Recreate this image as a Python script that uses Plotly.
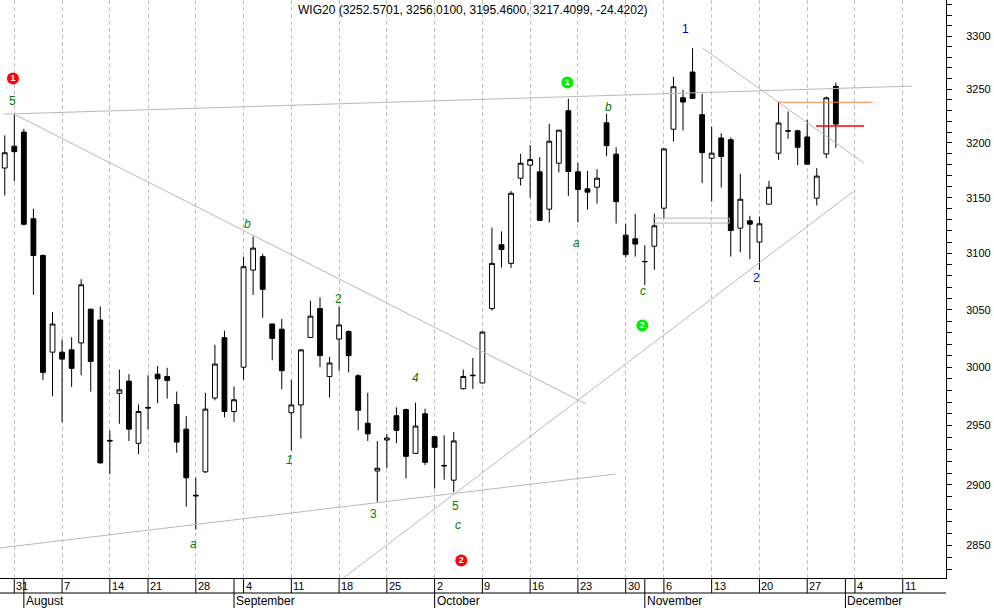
import numpy as np
import pandas as pd
import plotly.graph_objects as go

# ---------------- data ----------------
holidays = ["2006-08-15", "2006-11-01"]
trading_days = [d for d in pd.bdate_range("2006-07-28", "2006-12-15")
                if d.strftime("%Y-%m-%d") not in holidays]

open_ = [3177, 3197, 3210, 3131, 3098, 3013, 3013, 3015, 3021, 3050.5,
         3041, 2937.5, 2977.5, 2988, 2935, 2965.5, 2994, 2992, 2968, 2947,
         2891.5, 2911, 2973.5, 3025.6, 2962, 3000, 3085, 3097, 3037.5, 3033,
         2961, 2967.6, 3025.8, 3051, 2992, 3024.4, 3031, 2992.6, 2952, 2911.7,
         2937.8, 2958.4, 2963.6, 2926.5, 2960, 2940.6, 2916.4, 2904, 2981.5, 2992.6,
         2986.4, 3051, 3107.6, 3091, 3167.7, 3179.6, 3173.5, 3139.6, 3181.4, 3229.8,
         3173.5, 3158, 3159.5, 3218.6, 3189.7, 3116.2, 3112.9, 3092.7, 3106.3, 3140.5,
         3212.7, 3241.9, 3266, 3226.1, 3186, 3204.6, 3203, 3122.5, 3129.1, 3110,
         3144.1, 3190.6, 3211.2, 3211.2, 3205.5, 3149.5, 3189.9, 3252.5701]
high = [3207, 3226, 3213, 3140, 3099, 3048, 3024, 3026, 3077, 3051,
        3053, 2946, 2998, 2994, 2968, 2993, 3001, 2999.5, 2979, 2958,
        2906, 2978, 3019.5, 3031.6, 2983.5, 3097, 3115, 3099.5, 3038, 3042,
        2989, 3015.5, 3058, 3061, 3009, 3053, 3032, 2994, 2978, 2937,
        2943, 2965.5, 2964.4, 2969.5, 2964.4, 2941, 2941.7, 2944.5, 2998, 3008,
        3031, 3123, 3119.5, 3156, 3190, 3198, 3187, 3217.7, 3212, 3241,
        3181.6, 3174.4, 3176, 3227, 3196, 3126.6, 3135.4, 3107.2, 3135.6, 3195,
        3261.5, 3249.3, 3288.5, 3245.6, 3215, 3209, 3205, 3171.7, 3133.6, 3133,
        3165.3, 3238.2, 3229.2, 3212.1, 3221.4, 3176.9, 3243, 3256.01]
low = [3152, 3165, 3125, 3063, 2989, 2975, 2953, 2983, 2993, 2979,
       2918, 2909, 2951.5, 2937, 2926, 2947, 2969, 2973, 2927, 2882,
       2863, 2910, 2971.5, 2957, 2953, 2989, 3063, 3043, 3006, 2981,
       2929, 2939, 3025.3, 3000, 2974, 2997, 2995.5, 2946, 2937, 2886,
       2914, 2935, 2905.5, 2926, 2916.7, 2897, 2904.4, 2894, 2980.7, 2981.3,
       2986, 3049.3, 3087.3, 3087, 3161, 3150, 3129.3, 3127.5, 3173, 3151.6,
       3127.5, 3139.2, 3144.6, 3187.8, 3126.6, 3096.2, 3097.1, 3071.8, 3085.3, 3131.5,
       3201.2, 3211.5, 3241, 3163.2, 3146.4, 3159.2, 3097, 3101, 3094.8, 3085.3,
       3144, 3184.5, 3203.7, 3179.6, 3180.3, 3142.8, 3186, 3195.46]
close = [3191, 3192, 3126, 3098, 2995.5, 3037.5, 3007, 2999, 3072, 3005,
         2918.5, 2937, 2980.5, 2947, 2962, 2965, 2990, 2988.6, 2936, 2906,
         2891, 2964, 3002.7, 2962, 2972, 3088, 3104.6, 3068, 3025, 2997,
         2967.6, 3015, 3044.4, 3010, 3003.6, 3036.7, 3010, 2963, 2943, 2914,
         2939.5, 2946, 2924, 2949.6, 2919, 2931.6, 2916, 2937, 2992, 2993,
         3030.5, 3091, 3103.3, 3154, 3181.4, 3184.7, 3129.5, 3201.6, 3211.8, 3173.8,
         3157.4, 3155, 3167.7, 3197.5, 3146.4, 3098.8, 3108.2, 3092.5, 3124.6, 3194.5,
         3252.2, 3237.9, 3241.2, 3191.1, 3190.6, 3187.5, 3120.4, 3148.6, 3126.1, 3126.4,
         3159.5, 3218.4, 3211, 3196, 3180.5, 3169.6, 3241.83, 3217.4099]

title_text = "WIG20 (3252.5701, 3256.0100, 3195.4600, 3217.4099, -24.4202)"
y_ticks = [2850, 2900, 2950, 3000, 3050, 3100, 3150, 3200, 3250, 3300]
y_minor = list(range(2830, 3340, 10))

# trend lines drawn on the chart: (x0, price0, x1, price1) in trading-day positions
gray_lines = [(-0.15, 3226.6, 94.97, 3252.8),
              (1.0, 3226.5, 60.84, 2968.4),
              (-0.5, 2847.9, 63.99, 2909.2),
              (35.46, 2823.5, 88.83, 3155.6),
              (73.06, 3288.5, 89.95, 3181.4)]
orange_line = (80.95, 90.86, 3237.7)
red_line = (84.92, 89.95, 3215.6)
gap_box = (67.9, 75.85, 3127.0, 3131.5)

# wave labels: (position, price, text, colour, italic)
wave_labels = [(0.83, 3238.5, "5", "#008000", False),
               (25.36, 3126.4, "b", "#008000", True),
               (19.74, 2851.2, "a", "#008000", True),
               (29.79, 2920.6, "1", "#008000", True),
               (34.96, 3059.6, "2", "#008000", False),
               (38.65, 2876.2, "3", "#008000", False),
               (43.02, 2990.7, "4", "#008000", True),
               (47.21, 2882.8, "5", "#008000", False),
               (47.42, 2866.5, "c", "#008000", True),
               (63.18, 3232.9, "b", "#008000", True),
               (59.87, 3109.3, "a", "#008000", True),
               (66.78, 3066.1, "c", "#008000", True),
               (71.21, 3306.9, "1", "#0000cc", False),
               (78.71, 3077.6, "2", "#0000cc", False)]
# circled labels: (position, price, text, colour)
circle_labels = [(0.86, 3259.9, "1", "#ff0000"),
                 (47.79, 2837.6, "2", "#ff0000"),
                 (58.89, 3256.2, "1", "#00ee00"),
                 (66.74, 3036.3, "2", "#00ee00")]

# ---------------- figure ----------------
n = len(open_)
x = list(range(n))
dates = [d.strftime("%Y-%m-%d") for d in trading_days[:n]]

W, H = 994, 608
ML, MR, MT, MB = 0, 48, 0, 30
PH = H - MT - MB
FONT = "Liberation Sans, Arial, sans-serif"

fig = go.Figure()

for (x0, p0, x1, p1) in gray_lines:
    fig.add_trace(go.Scatter(x=[x0, x1], y=[p0, p1], mode="lines",
                             line=dict(color="#b8b8b8", width=1),
                             hoverinfo="skip", showlegend=False))
bx0, bx1, by0, by1 = gap_box
fig.add_trace(go.Scatter(x=[bx0, bx1, bx1, bx0, bx0], y=[by0, by0, by1, by1, by0],
                         mode="lines", line=dict(color="#b8b8b8", width=1),
                         hoverinfo="skip", showlegend=False))

fig.add_trace(go.Candlestick(
    x=x, open=open_, high=high, low=low, close=close, text=dates,
    increasing=dict(fillcolor="#ffffff", line=dict(color="#000000", width=1)),
    decreasing=dict(fillcolor="#000000", line=dict(color="#000000", width=1)),
    whiskerwidth=0, showlegend=False))

fig.add_trace(go.Scatter(x=[orange_line[0], orange_line[1]], y=[orange_line[2]] * 2,
                         mode="lines", line=dict(color="#ff7f3f", width=1.2),
                         hoverinfo="skip", showlegend=False))
fig.add_trace(go.Scatter(x=[red_line[0], red_line[1]], y=[red_line[2]] * 2,
                         mode="lines", line=dict(color="#ff0000", width=1.6),
                         hoverinfo="skip", showlegend=False))

fig.add_trace(go.Scatter(
    x=[c[0] for c in circle_labels], y=[c[1] for c in circle_labels],
    text=[c[2] for c in circle_labels], mode="markers+text",
    marker=dict(size=12, color=[c[3] for c in circle_labels], line=dict(width=0)),
    textfont=dict(color="#ffffff", size=9, family=FONT, weight="bold"),
    textposition="middle center", hoverinfo="skip", showlegend=False))

annotations = []
for (px, pp, t, col, it) in wave_labels:
    annotations.append(dict(x=px, y=np.log10(pp), xref="x", yref="y", text=t,
                            showarrow=False,
                            font=dict(color=col, size=12, family=FONT,
                                      style="italic" if it else "normal")))

annotations.append(dict(x=472.5 / (W - ML - MR), y=1 - 10 / PH, xref="paper", yref="paper",
                        text=title_text, showarrow=False, xanchor="center", yanchor="middle",
                        font=dict(size=12, family=FONT, color="#000000")))

# calendar-based date axis (two rows: day of Monday, month)
cal_pos = list(range(len(trading_days)))
mondays = [i for i, d in enumerate(trading_days) if d.weekday() == 0]
month_starts = [i for i in range(1, len(trading_days))
                if trading_days[i].month != trading_days[i - 1].month]
xmin, xmax = -0.497, 98.53

shapes = []
row1 = -15 / PH
row2 = -30 / PH
for p in sorted(set(mondays + month_starts)):
    if xmin < p < xmax:
        shapes.append(dict(type="line", xref="x", yref="paper", x0=p, x1=p, y0=0, y1=row1,
                           line=dict(color="#000000", width=1)))
for p in month_starts:
    if xmin < p < xmax:
        shapes.append(dict(type="line", xref="x", yref="paper", x0=p, x1=p, y0=row1, y1=row2,
                           line=dict(color="#000000", width=1)))
shapes.append(dict(type="line", xref="paper", yref="paper", x0=0, x1=1, y0=row1, y1=row1,
                   line=dict(color="#000000", width=1)))

for p in mondays:
    if xmin < p < xmax:
        annotations.append(dict(x=p, y=-7.5 / PH, xref="x", yref="paper",
                                text=str(trading_days[p].day), showarrow=False,
                                xanchor="left", yanchor="middle", xshift=0,
                                font=dict(size=11, family=FONT, color="#000000")))
for p in month_starts:
    if xmin < p < xmax:
        annotations.append(dict(x=p, y=-23 / PH, xref="x", yref="paper",
                                text=trading_days[p].strftime("%B"), showarrow=False,
                                xanchor="left", yanchor="middle", xshift=0,
                                font=dict(size=12, family=FONT, color="#000000")))

fig.update_layout(
    width=W, height=H,
    margin=dict(l=ML, r=MR, t=MT, b=MB, pad=0),
    paper_bgcolor="#ffffff", plot_bgcolor="#ffffff",
    font=dict(family=FONT, size=11, color="#000000"),
    showlegend=False, boxgap=0.28,
    annotations=annotations, shapes=shapes,
    hovermode=False,
)
fig.update_xaxes(range=[xmin, xmax], rangeslider=dict(visible=False),
                 tickmode="array", tickvals=mondays, showticklabels=False, ticks="",
                 showgrid=True, gridcolor="#c0c0c0", griddash="4px,3px", gridwidth=1,
                 showline=True, linecolor="#000000", linewidth=1, zeroline=False)
fig.update_yaxes(type="log", range=[np.log10(2823.4), np.log10(3334.4)], side="right",
                 tickmode="array", tickvals=y_ticks, ticktext=[str(v) for v in y_ticks],
                 ticks="outside", ticklen=5, tickcolor="#000000", ticklabelstandoff=12,
                 minor=dict(tickmode="array", tickvals=y_minor, ticks="outside", ticklen=5,
                            tickcolor="#000000", showgrid=False),
                 showgrid=False, showline=True, linecolor="#000000", linewidth=1,
                 zeroline=False, tickfont=dict(size=11, family=FONT))

fig.write_html("out.html", config=dict(displayModeBar=False, staticPlot=True),
               post_script="document.body.style.margin='0';document.body.style.overflow='hidden';")
